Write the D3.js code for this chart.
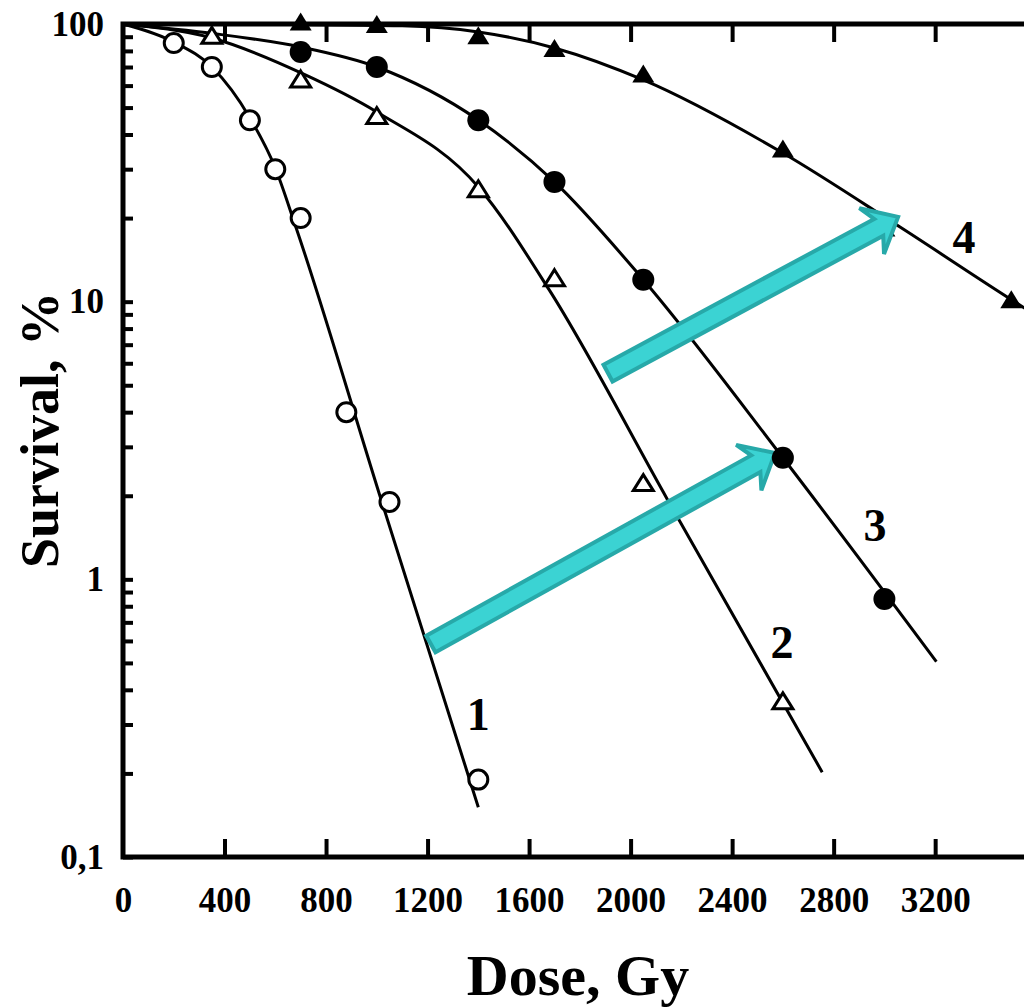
<!DOCTYPE html>
<html>
<head>
<meta charset="utf-8">
<script src="https://cdn.jsdelivr.net/npm/d3@7"></script>
<style>
  body { margin: 0; background: #fff; }
  text { font-family: "Liberation Serif", "Times New Roman", serif; font-weight: bold; fill: #000; }
</style>
</head>
<body>
<div id="chart"></div>
<script>
// measured points (dose in Gy, survival in %)
var dose1 = [200, 350, 500, 600, 700, 880, 1050, 1400];
var surv1 = [85.4, 70, 45, 30, 20, 4.0, 1.9, 0.19];
var dose2 = [350, 700, 1000, 1400, 1700, 2050, 2600];
var surv2 = [91, 63.4, 46.8, 25.5, 12.2, 2.23, 0.365];
var dose3 = [700, 1000, 1400, 1700, 2050, 2600, 3000];
var surv3 = [79.3, 70, 45, 27, 12, 2.74, 0.85];
var dose4 = [700, 1000, 1400, 1700, 2050, 2600, 3000, 3500];
var surv4 = [102, 100, 91, 82, 66.3, 35.6, 18.5, 10.2];

// fitted curves
var fitDose1 = [0, 200, 350, 500, 600, 680, 1010, 1400];
var fitSurv1 = [100, 86.1, 70, 45.9, 30.3, 18.7, 2.03, 0.151];
var fitDose2 = [0, 350, 710, 1000, 1400, 1680, 2145, 2755];
var fitSurv2 = [100, 89, 66.1, 48.2, 25.9, 11.0, 1.94, 0.202];
var fitDose3 = [0, 355, 700, 1000, 1400, 1700, 2050, 2600, 3205];
var fitSurv3 = [100, 92.4, 82.6, 70, 45.1, 27, 12, 2.74, 0.505];
var fitDose4 = [0, 700, 1100, 1400, 1700, 2050, 2600, 3060, 3505, 3600];
var fitSurv4 = [100, 99.5, 98.5, 93.6, 82, 62.9, 34.3, 18.6, 10.1, 8.9];

// curve labels
var curveNames = ["1", "2", "3", "4"];
var nameDose = [1400, 2597, 2963, 3314];
var nameSurv = [0.286, 0.521, 1.375, 14.96];

// arrows (tail -> tip)
var arrowFrom = [[1213, 0.585], [1911, 5.53]];
var arrowTo = [[2569, 2.85], [3054, 20.2]];

var doseTicks = [0, 400, 800, 1200, 1600, 2000, 2400, 2800, 3200, 3600];
var survLabels = {100: "100", 10: "10", 1: "1", 0.1: "0,1"};

var W = 1024, H = 1007;
var padL = 123, padT = 24, padB = 857;
var x = d3.scaleLinear().domain([0, 3600]).range([padL, padL + 3600 * 0.2538]);
var y = d3.scaleLog().domain([0.1, 100]).range([padB, padT]);
var padR = x(3600);

var svg = d3.select("#chart").append("svg")
  .attr("width", W)
  .attr("height", H);

// log ticks for every decade
var survTicks = [];
[0.1, 1, 10].forEach(function(p) {
  for (var k = 1; k < 10; k++) survTicks.push(+(p * k).toPrecision(3));
});
survTicks.push(100);

function styleAxis(g) {
  g.select(".domain").remove();
  g.selectAll(".tick line").attr("stroke", "#000").attr("stroke-width", 4);
  g.selectAll(".tick text").style("font-size", "35px").style("font-family", "Liberation Serif").style("font-weight", "bold");
}

svg.append("g")
  .attr("transform", "translate(0," + padB + ")")
  .call(d3.axisBottom(x).tickValues(doseTicks).tickSize(-18).tickPadding(30)
    .tickFormat(function(d) { return d === 3600 ? "" : d; }))
  .call(styleAxis)
  .selectAll(".tick line").filter(function(d) { return d === 0; }).remove();

svg.append("g")
  .attr("transform", "translate(0," + padT + ")")
  .call(d3.axisTop(x).tickValues(doseTicks.slice(1)).tickSize(-18).tickFormat(""))
  .call(styleAxis);

svg.append("g")
  .attr("transform", "translate(" + padL + ",0)")
  .call(d3.axisLeft(y).tickValues(survTicks).tickSize(-10).tickPadding(19)
    .tickFormat(function(d) { return survLabels[d] || ""; }))
  .call(styleAxis);

svg.append("g")
  .attr("transform", "translate(" + padR + ",0)")
  .call(d3.axisRight(y).tickValues(survTicks).tickSize(-10).tickFormat(""))
  .call(styleAxis);

// frame
svg.append("rect")
  .attr("x", padL).attr("y", padT)
  .attr("width", padR - padL).attr("height", padB - padT)
  .attr("fill", "none").attr("stroke", "#000").attr("stroke-width", 5);

// axis titles
svg.append("text")
  .attr("x", 578).attr("y", 995)
  .attr("text-anchor", "middle")
  .style("font-size", "58px")
  .text("Dose, Gy");

svg.append("text")
  .attr("transform", "translate(58,430) rotate(-90)")
  .attr("text-anchor", "middle")
  .style("font-size", "54px")
  .text("Survival, %");

// fitted lines
var line = d3.line()
  .x(function(d) { return x(d[0]); })
  .y(function(d) { return y(d[1]); })
  .curve(d3.curveMonotoneX);

[[fitDose1, fitSurv1], [fitDose2, fitSurv2], [fitDose3, fitSurv3], [fitDose4, fitSurv4]].forEach(function(c) {
  svg.append("path")
    .datum(d3.zip(c[0], c[1]))
    .attr("d", line)
    .attr("fill", "none")
    .attr("stroke", "#000")
    .attr("stroke-width", 3);
});

function tri(w, h) {
  return "M0," + (-h / 2) + "L" + (w / 2) + "," + (h / 2) + "L" + (-w / 2) + "," + (h / 2) + "Z";
}

// filled triangles (curve 4) go under the arrows
svg.append("g").selectAll("path")
  .data(d3.zip(dose4, surv4))
  .enter().append("path")
  .attr("transform", function(d) { return "translate(" + x(d[0]) + "," + y(d[1]) + ")"; })
  .attr("d", tri(22, 18))
  .attr("fill", "#000");

// arrows
function arrowPath(a, b) {
  var x0 = x(a[0]), y0 = y(a[1]), x1 = x(b[0]), y1 = y(b[1]);
  var len = Math.hypot(x1 - x0, y1 - y0);
  var ang = Math.atan2(y1 - y0, x1 - x0) * 180 / Math.PI;
  var sw = 9.5, hw = 26, hl = 30, notch = 8;
  var pts = [[0, -sw], [len - hl + notch, -sw], [len - hl, -hw], [len, 0],
             [len - hl, hw], [len - hl + notch, sw], [0, sw]];
  return {
    d: "M" + pts.map(function(p) { return p.join(","); }).join("L") + "Z",
    t: "translate(" + x0 + "," + y0 + ") rotate(" + ang + ")"
  };
}

arrowFrom.forEach(function(a, i) {
  var p = arrowPath(a, arrowTo[i]);
  svg.append("path")
    .attr("d", p.d)
    .attr("transform", p.t)
    .attr("fill", "#3bd3d3")
    .attr("stroke", "#27a9a9")
    .attr("stroke-width", 4)
    .attr("stroke-linejoin", "miter");
});

// open circles (curve 1)
svg.append("g").selectAll("circle")
  .data(d3.zip(dose1, surv1))
  .enter().append("circle")
  .attr("cx", function(d) { return x(d[0]); })
  .attr("cy", function(d) { return y(d[1]); })
  .attr("r", 9.5)
  .attr("fill", "#fff")
  .attr("stroke", "#000")
  .attr("stroke-width", 3);

// open triangles (curve 2)
svg.append("g").selectAll("path")
  .data(d3.zip(dose2, surv2))
  .enter().append("path")
  .attr("transform", function(d) { return "translate(" + x(d[0]) + "," + y(d[1]) + ")"; })
  .attr("d", tri(20, 16))
  .attr("fill", "#fff")
  .attr("stroke", "#000")
  .attr("stroke-width", 3)
  .attr("stroke-linejoin", "miter");

// filled circles (curve 3)
svg.append("g").selectAll("circle")
  .data(d3.zip(dose3, surv3))
  .enter().append("circle")
  .attr("cx", function(d) { return x(d[0]); })
  .attr("cy", function(d) { return y(d[1]); })
  .attr("r", 11)
  .attr("fill", "#000");

// curve numbers
svg.append("g").selectAll("text")
  .data(curveNames)
  .enter().append("text")
  .attr("x", function(d, i) { return x(nameDose[i]); })
  .attr("y", function(d, i) { return y(nameSurv[i]); })
  .attr("text-anchor", "middle")
  .style("font-size", "46px")
  .text(function(d) { return d; });
</script>
</body>
</html>
